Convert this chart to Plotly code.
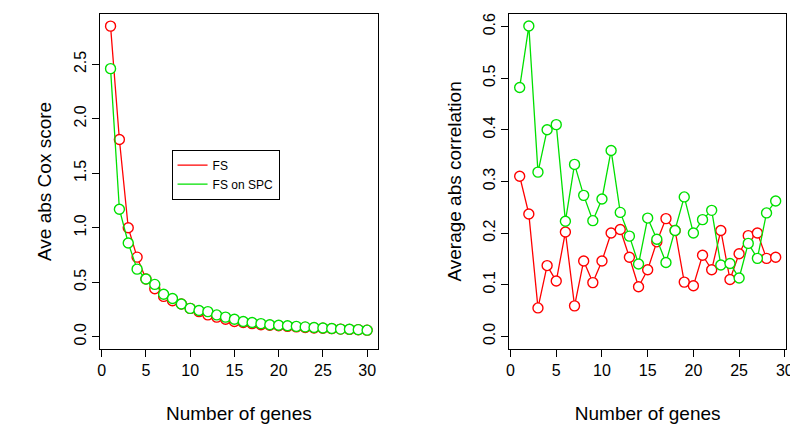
import plotly.graph_objects as go

genes_left = list(range(1, 31))
cox_fs = [2.85, 1.81, 1.0, 0.73, 0.53, 0.44, 0.37, 0.33, 0.30, 0.26, 0.23, 0.20, 0.18, 0.16, 0.14,
          0.13, 0.12, 0.11, 0.105, 0.10, 0.095, 0.09, 0.085, 0.08, 0.078, 0.074, 0.07, 0.067, 0.064, 0.06]
cox_spc = [2.46, 1.17, 0.86, 0.62, 0.53, 0.48, 0.39, 0.35, 0.30, 0.26, 0.24, 0.23, 0.20, 0.18, 0.16,
           0.14, 0.13, 0.12, 0.11, 0.105, 0.10, 0.095, 0.09, 0.085, 0.08, 0.075, 0.07, 0.068, 0.065, 0.06]

genes_right = list(range(1, 30))
cor_fs = [0.31, 0.237, 0.055, 0.137, 0.107, 0.202, 0.059, 0.146, 0.104, 0.146, 0.2, 0.207, 0.153,
          0.096, 0.129, 0.183, 0.228, 0.205, 0.105, 0.098, 0.157, 0.129, 0.205, 0.11, 0.16, 0.195,
          0.2, 0.151, 0.153]
cor_spc = [0.482, 0.601, 0.318, 0.4, 0.41, 0.223, 0.333, 0.273, 0.224, 0.266, 0.36, 0.24, 0.194,
           0.14, 0.229, 0.188, 0.143, 0.205, 0.27, 0.2, 0.226, 0.244, 0.138, 0.141, 0.113, 0.18,
           0.151, 0.239, 0.262]

RED = "#FF0000"
GREEN = "#00E000"


def series(x, y, color, xa, ya):
    return go.Scatter(x=x, y=y, mode="lines+markers", showlegend=False,
                      xaxis=xa, yaxis=ya,
                      line=dict(color=color, width=1.3),
                      marker=dict(symbol="circle", size=10, color="white",
                                  line=dict(color=color, width=1.4)))


fig = go.Figure()
fig.add_trace(series(genes_left, cox_fs, RED, "x", "y"))
fig.add_trace(series(genes_left, cox_spc, GREEN, "x", "y"))
fig.add_trace(series(genes_right, cor_fs, RED, "x2", "y2"))
fig.add_trace(series(genes_right, cor_spc, GREEN, "x2", "y2"))
# legend entries: lines only, like R's legend(lty=1)
for name, color in [("FS", RED), ("FS on SPC", GREEN)]:
    fig.add_trace(go.Scatter(x=[None], y=[None], mode="lines", name=name,
                             line=dict(color=color, width=1.3)))

ax = dict(showline=True, mirror=True, linecolor="black", linewidth=1, ticks="outside",
          ticklen=7, tickcolor="black", showgrid=False, zeroline=False,
          tickfont=dict(size=16, color="black"))

fig.update_layout(
    width=798, height=431,
    margin=dict(l=0, r=0, t=0, b=0),
    paper_bgcolor="white", plot_bgcolor="white",
    font=dict(family="Liberation Sans, Arial, sans-serif", size=16, color="black"),
    xaxis=dict(ax, domain=[0.113, 0.466], range=[-0.2, 31.2], tickvals=[0, 5, 10, 15, 20, 25, 30],
               title=dict(text="Number of genes", standoff=28)),
    yaxis=dict(ax, domain=[0.21, 0.988], range=[-0.11, 2.96], tickvals=[0, 0.5, 1, 1.5, 2, 2.5],
               ticktext=["0.0", "0.5", "1.0", "1.5", "2.0", "2.5"], tickangle=-90,
               title=dict(text="Ave abs Cox score", standoff=14)),
    xaxis2=dict(ax, domain=[0.633, 0.985], range=[-0.15, 30.15], anchor="y2",
                tickvals=[0, 5, 10, 15, 20, 25, 30],
                title=dict(text="Number of genes", standoff=28)),
    yaxis2=dict(ax, domain=[0.21, 0.988], range=[-0.024, 0.624], anchor="x2",
                tickvals=[0, 0.1, 0.2, 0.3, 0.4, 0.5, 0.6],
                ticktext=["0.0", "0.1", "0.2", "0.3", "0.4", "0.5", "0.6"], tickangle=-90,
                title=dict(text="Average abs correlation", standoff=14)),
    legend=dict(x=0.204, y=0.673, xanchor="left", yanchor="top", bordercolor="black",
                borderwidth=1, bgcolor="white", font=dict(size=12)),
)

fig.write_html("out.html")
